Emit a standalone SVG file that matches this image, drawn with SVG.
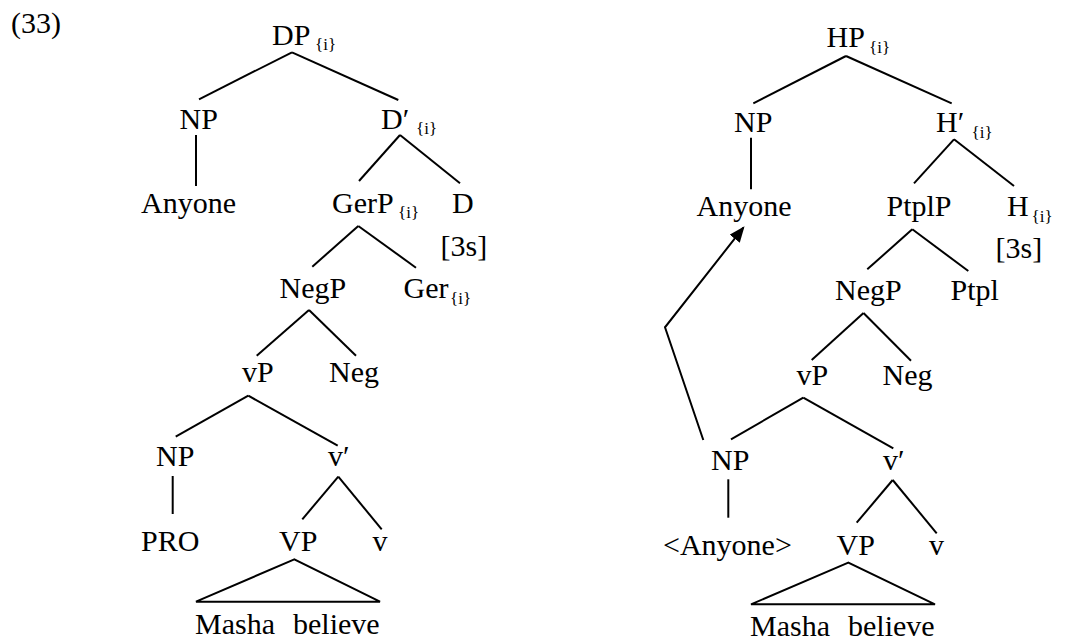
<svg xmlns="http://www.w3.org/2000/svg" width="1071" height="642" viewBox="0 0 1071 642" font-family="Liberation Serif, serif">
<style>
text{font-size:30px;fill:#000}
.sub{font-size:17px}
.e{stroke:#000;stroke-width:2;fill:none;stroke-linecap:butt}
</style>
<defs>
<marker id="ah" markerUnits="userSpaceOnUse" markerWidth="16" markerHeight="13" refX="14" refY="6.5" orient="auto">
<path d="M0,0 L16,6.5 L0,13 z" fill="#000"/>
</marker>
</defs>
<rect width="1071" height="642" fill="#fff"/>
<text id="exnum" x="11" y="33">(33)</text>
<g id="connectors">
<line class="e" x1="292" y1="52.3" x2="199" y2="99.3"/>
<line class="e" x1="292" y1="52.3" x2="398.3" y2="100"/>
<line class="e" x1="196" y1="135" x2="196" y2="186"/>
<line class="e" x1="400" y1="135" x2="359" y2="181"/>
<line class="e" x1="400" y1="135" x2="460" y2="183.3"/>
<line class="e" x1="358.3" y1="226" x2="312.3" y2="266.7"/>
<line class="e" x1="358.3" y1="226" x2="416" y2="267.7"/>
<line class="e" x1="309" y1="310" x2="256.7" y2="355.7"/>
<line class="e" x1="309" y1="310" x2="356" y2="355.7"/>
<line class="e" x1="248.3" y1="395.7" x2="175.7" y2="436.7"/>
<line class="e" x1="248.3" y1="395.7" x2="337.7" y2="445.7"/>
<line class="e" x1="172.7" y1="476" x2="172.7" y2="514"/>
<line class="e" x1="338.3" y1="476.7" x2="302.3" y2="519.3"/>
<line class="e" x1="338.3" y1="476.7" x2="381.7" y2="529.3"/>
<polygon class="e" points="294.3,559.3 196,601.7 380,601.7"/>
<line class="e" x1="846" y1="56" x2="753.3" y2="103.3"/>
<line class="e" x1="846" y1="56" x2="951.7" y2="103.3"/>
<line class="e" x1="751" y1="137.7" x2="751" y2="189.3"/>
<line class="e" x1="954" y1="139.3" x2="914" y2="183.3"/>
<line class="e" x1="954" y1="139.3" x2="1014" y2="186"/>
<line class="e" x1="912.3" y1="229.3" x2="867.3" y2="269.3"/>
<line class="e" x1="912.3" y1="229.3" x2="968.3" y2="271"/>
<line class="e" x1="863.5" y1="313" x2="811.7" y2="360"/>
<line class="e" x1="863.5" y1="313" x2="911" y2="360.7"/>
<line class="e" x1="803.3" y1="397.7" x2="731" y2="439.3"/>
<line class="e" x1="803.3" y1="397.7" x2="893.3" y2="448.3"/>
<line class="e" x1="728.3" y1="479.3" x2="728.3" y2="517.7"/>
<line class="e" x1="892.7" y1="480" x2="856.7" y2="522.7"/>
<line class="e" x1="892.7" y1="480" x2="936.7" y2="533.3"/>
<polygon class="e" points="848.3,562.7 751,604.3 935,604.3"/>
<path class="e" d="M703.3,440 L665,327.3 L743.3,227.7" marker-end="url(#ah)"/>
</g>
<g id="L-DP"><text x="272" y="44.5">DP</text><text class="sub" x="315" y="50">{i}</text></g>
<g id="L-NP1"><text x="179.5" y="128.5">NP</text></g>
<g id="L-Dbar"><text x="381" y="128.5">D′</text><text class="sub" x="416" y="134">{i}</text></g>
<g id="L-Anyone"><text x="141" y="212.5">Anyone</text></g>
<g id="L-GerP"><text x="332" y="212.5">GerP</text><text class="sub" x="398" y="218">{i}</text></g>
<g id="L-D"><text x="452" y="212.5">D</text><text x="440.5" y="256">[3s]</text></g>
<g id="L-NegP"><text x="279.5" y="298">NegP</text></g>
<g id="L-Ger"><text x="403.5" y="298">Ger</text><text class="sub" x="450" y="303.5">{i}</text></g>
<g id="L-vP"><text x="242" y="382">vP</text></g>
<g id="L-Neg"><text x="329" y="382">Neg</text></g>
<g id="L-NP2"><text x="156" y="466">NP</text></g>
<g id="L-vbar"><text x="328" y="466">v′</text></g>
<g id="L-PRO"><text x="141" y="551">PRO</text></g>
<g id="L-VP"><text x="279" y="551">VP</text></g>
<g id="L-v"><text x="372.5" y="551">v</text></g>
<g id="L-MB"><text y="634"><tspan x="195">Masha</tspan><tspan x="293">believe</tspan></text></g>
<g id="R-HP"><text x="826.5" y="47">HP</text><text class="sub" x="869" y="52.5">{i}</text></g>
<g id="R-NP1"><text x="734" y="132">NP</text></g>
<g id="R-Hbar"><text x="936" y="132">H′</text><text class="sub" x="971.5" y="137.5">{i}</text></g>
<g id="R-Anyone"><text x="696.5" y="216">Anyone</text></g>
<g id="R-PtplP"><text x="886.5" y="216">PtplP</text></g>
<g id="R-H"><text x="1007" y="216">H</text><text class="sub" x="1031.5" y="221.5">{i}</text><text x="995.5" y="258">[3s]</text></g>
<g id="R-NegP"><text x="835" y="300">NegP</text></g>
<g id="R-Ptpl"><text x="950.5" y="300">Ptpl</text></g>
<g id="R-vP"><text x="796.5" y="385">vP</text></g>
<g id="R-Neg"><text x="882.5" y="385">Neg</text></g>
<g id="R-NP2"><text x="711" y="470">NP</text></g>
<g id="R-vbar"><text x="883" y="470">v′</text></g>
<g id="R-Anyone2"><text x="663" y="555">&lt;Anyone&gt;</text></g>
<g id="R-VP"><text x="836.5" y="555">VP</text></g>
<g id="R-v"><text x="929" y="555">v</text></g>
<g id="R-MB"><text y="636"><tspan x="750">Masha</tspan><tspan x="848">believe</tspan></text></g>
</svg>
